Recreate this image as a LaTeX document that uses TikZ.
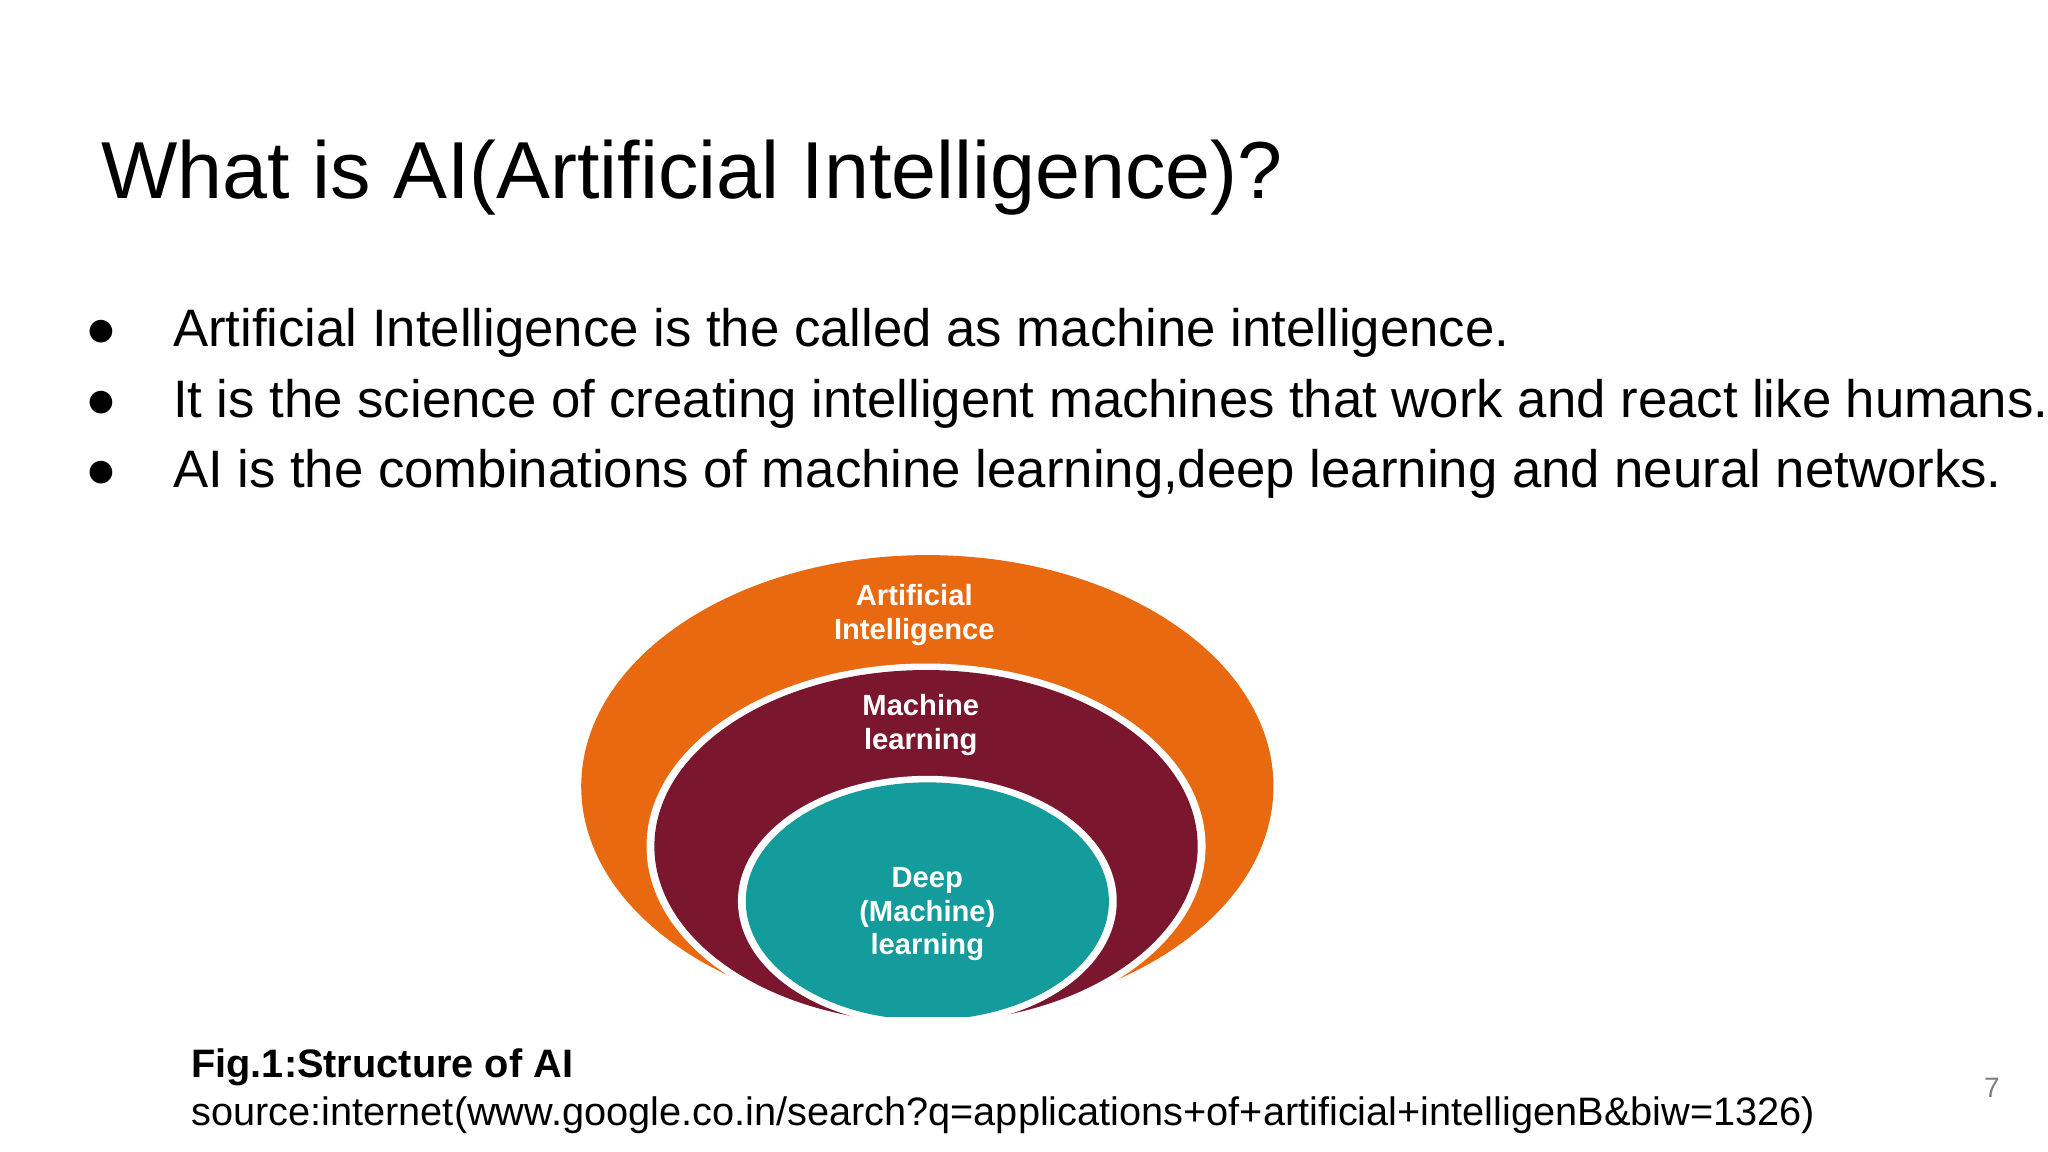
\documentclass[tikz,border=0pt]{standalone}
\usepackage{fontspec}
\setmainfont{Liberation Sans}
\begin{document}
\begin{tikzpicture}[x=0.013061cm,y=-0.013061cm,
  lbl/.style={text=white,font=\fontsize{8.3}{9.6}\selectfont\bfseries,align=center},
  bul/.style={anchor=base west,font=\fontsize{15}{18}\selectfont},
  dot/.style={anchor=base,font=\fontsize{15}{18}\selectfont}]
\useasboundingbox (0,0) rectangle (1568,882);
\node[anchor=base west,font=\fontsize{23}{27}\selectfont] (title) at (68,152) {What is AI(Artificial Intelligence)?};
\foreach \y/\t [count=\i] in {265/Artificial Intelligence is the called as machine intelligence.,
  320/It is the science of creating intelligent machines that work and react like humans.,
  373/{AI is the combinations of machine learning,deep learning and neural networks.}}{
  \node[dot] (d\i) at (78,\y) {●};
  \node[bul] (b\i) at (123,\y) {\t};}
\begin{scope}
\clip (400,400) rectangle (1100,778);
\fill[fill={rgb,255:red,232;green,105;blue,15}] (710,602) ellipse (265 and 177);
\fill[white] (709,648) ellipse (214 and 140);
\fill[fill={rgb,255:red,122;green,22;blue,46}] (709,648) ellipse (208 and 135);
\fill[white] (710,690) ellipse (145 and 96);
\fill[fill={rgb,255:red,20;green,155;blue,155}] (710,690) ellipse (139 and 91);
\end{scope}
\node[lbl] (ai) at (700,471) {Artificial\\Intelligence};
\node[lbl] (ml) at (705,555) {Machine\\learning};
\node[lbl] (dl) at (710,700) {Deep\\(Machine)\\learning};
\node[anchor=base west,font=\fontsize{11.3}{13}\selectfont\bfseries] (fig) at (137,825) {Fig.1:Structure of AI};
\node[anchor=base west,font=\fontsize{11.3}{13}\selectfont] (src) at (137,862) {source:internet(www.google.co.in/search?q=applications+of+artificial+intelligenB\&biw=1326)};
\node[anchor=base,text=gray,font=\fontsize{8}{9}\selectfont] (pg) at (1525,840) {7};
\end{tikzpicture}
\end{document}
